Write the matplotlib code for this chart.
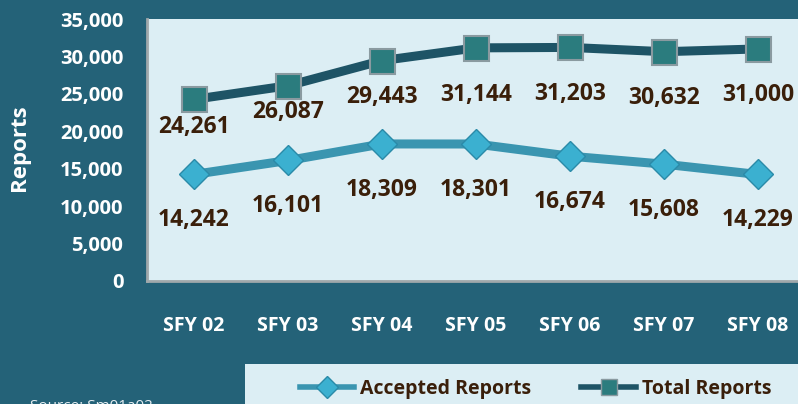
import matplotlib
matplotlib.use("Agg")
import matplotlib.pyplot as plt
import matplotlib.patches as mpatches
from matplotlib.lines import Line2D

# ── data ────────────────────────────────────────────
years    = ["SFY 02", "SFY 03", "SFY 04", "SFY 05", "SFY 06", "SFY 07", "SFY 08"]
accepted = [14242, 16101, 18309, 18301, 16674, 15608, 14229]
total    = [24261, 26087, 29443, 31144, 31203, 30632, 31000]

# ── colours ─────────────────────────────────────────
BG      = "#246278"
PLOT_BG = "#DCEEF4"
TOTAL   = "#1E5466"
ACC     = "#3A95B0"
ACC_MK  = "#3BB0D0"
TOT_MK  = "#2B7C7E"
LABEL   = "#3A1F0A"

plt.rcParams["font.family"] = ["Open Sans", "DejaVu Sans"]

W, H = 798, 404
fig = plt.figure(figsize=(W / 100, H / 100), dpi=100)
fig.patch.set_facecolor(BG)

# plot area (right edge runs past the picture, like the original)
left, right, top, bottom = 147, 805, 19, 281
ax = fig.add_axes([left / W, 1 - bottom / H, (right - left) / W, (bottom - top) / H])
ax.set_facecolor(PLOT_BG)

x = list(range(len(years)))
ax.plot(x, total, color=TOTAL, lw=6.5, marker="s", ms=18,
        mfc=TOT_MK, mec="#8a9aa0", mew=1.5, zorder=3)
ax.plot(x, accepted, color=ACC, lw=6.5, marker="D", ms=15,
        mfc=ACC_MK, mec="#2a8aa8", mew=1, zorder=3)

# data labels under each marker
total_dy = [28, 26, 36, 47, 47, 46, 46]   # px below marker, as in the original
for i, v in enumerate(total):
    ax.annotate(f"{v:,}", (i, v), xytext=(0, -total_dy[i] * 0.72),
                textcoords="offset points", ha="center", va="center",
                fontsize=16.5, fontweight="bold", color=LABEL)
for i, v in enumerate(accepted):
    ax.annotate(f"{v:,}", (i, v), xytext=(0, -46 * 0.72),
                textcoords="offset points", ha="center", va="center",
                fontsize=16.5, fontweight="bold", color=LABEL)

ax.set_xlim(-0.5, len(years) - 0.5)
ax.set_ylim(0, 35000)
ax.set_yticks(range(0, 35001, 5000))
ax.set_yticklabels([f"{t:,}" for t in range(0, 35001, 5000)],
                   fontsize=14.5, fontweight="bold", color="white")
ax.set_xticks(x)
ax.set_xticklabels(years, fontsize=14, fontweight="bold", color="white")
ax.tick_params(axis="y", length=0, pad=17)
ax.tick_params(axis="x", length=0, pad=25)
for s in ["top", "right"]:
    ax.spines[s].set_visible(False)
for s in ["left", "bottom"]:
    ax.spines[s].set_color("#a0a8ab")
    ax.spines[s].set_linewidth(2)

fig.text(20 / W, 1 - 148 / H, "Reports", rotation=90, ha="center", va="center",
         fontsize=16, fontweight="bold", color="white")

# legend box at the bottom
fig.patches.append(mpatches.Rectangle((245 / W, 0), (W - 245) / W, 40 / H,
                                      transform=fig.transFigure,
                                      facecolor=PLOT_BG, edgecolor="none"))
handles = [
    Line2D([], [], color=ACC, lw=4, marker="D", ms=11, mfc=ACC_MK, mec="#2a8aa8"),
    Line2D([], [], color=TOTAL, lw=4, marker="s", ms=12, mfc=TOT_MK, mec="#8a9aa0"),
]
fig.legend(handles, ["Accepted Reports", "Total Reports"], ncol=2,
           loc="center left", bbox_to_anchor=(282 / W, 1 - 389 / H),
           frameon=False, handlelength=2.8, handletextpad=0.3, columnspacing=2.6,
           prop={"family": "Open Sans", "weight": "bold", "size": 14},
           labelcolor=LABEL)

fig.text(30 / W, 1 - 406 / H, "Source: Sm01a02", ha="left", va="center",
         fontsize=11, color="#e6eef2")

fig.savefig("out.png", dpi=100, facecolor=BG)
